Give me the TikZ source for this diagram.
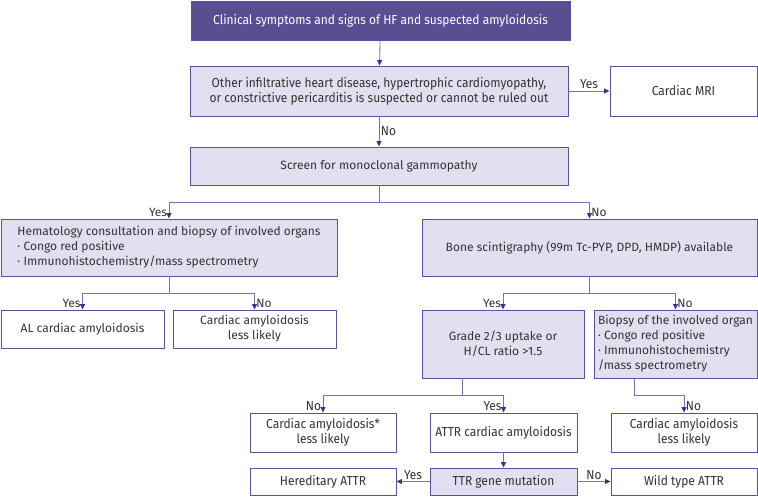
\documentclass[tikz,border=0pt]{standalone}
\usepackage{fontspec}
\setmainfont{Fira Sans}
\newfontfamily\condfont[FakeStretch=0.92]{Fira Sans}
\usetikzlibrary{arrows.meta}
\definecolor{boxdark}{RGB}{87,79,146}
\definecolor{boxlight}{RGB}{226,224,240}
\definecolor{edge}{RGB}{88,82,158}
\definecolor{flow}{RGB}{118,112,178}
\definecolor{tip}{RGB}{58,52,145}
\definecolor{txt}{RGB}{51,51,51}

\begin{document}
\begin{tikzpicture}[x=1pt,y=-1pt,
  box/.style={draw=edge, line width=0.9pt, fill=white, text=txt, inner sep=2pt, align=center,
    font=\fontsize{12}{15}\selectfont},
  lightbox/.style={box, fill=boxlight},
  darkbox/.style={box, fill=boxdark, text=white},
  cond/.style={font=\condfont\fontsize{13}{15}\selectfont},
  arr/.style={draw=flow, line width=0.9pt, -{Triangle[length=5.5pt,width=5pt,color=tip]}},
  lbl/.style={text=txt, inner sep=1.5pt, font=\fontsize{12}{12}\selectfont},
  clbl/.style={lbl, font=\condfont\fontsize{13}{12}\selectfont}]
  \useasboundingbox (0,0) rectangle (758,496);

  \node[darkbox, cond, minimum width=379pt, minimum height=39pt] (clin) at (380.5,20.5)
    {Clinical symptoms and signs of HF and suspected amyloidosis};
  \node[lightbox, cond, minimum width=378pt, minimum height=50pt] (other) at (379,91)
    {Other infiltrative heart disease, hypertrophic cardiomyopathy,\\
     or constrictive pericarditis is suspected or cannot be ruled out};
  \node[box, cond, minimum width=147pt, minimum height=50pt] (mri) at (683.5,91) {Cardiac MRI};
  \node[lightbox, minimum width=378pt, minimum height=38pt] (screen) at (379,166)
    {Screen for monoclonal gammopathy};

  \node[lightbox, align=left, minimum width=336pt, minimum height=57pt] (hema) at (169,247.5)
    {Hematology consultation and biopsy of involved organs\\
     · Congo red positive\\
     · Immunohistochemistry/mass spectrometry};
  \node[lightbox, minimum width=335pt, minimum height=57pt] (bone) at (589.5,247.5)
    {Bone scintigraphy (99m Tc-PYP, DPD, HMDP) available};

  \node[box, minimum width=163pt, minimum height=38pt] (al) at (82.5,329) {AL cardiac amyloidosis};
  \node[box, minimum width=163pt, minimum height=38pt] (unlikelyA) at (254.5,329)
    {Cardiac amyloidosis\\less likely};
  \node[lightbox, minimum width=162pt, minimum height=68pt] (grade) at (503,344)
    {Grade 2/3 uptake or\\H/CL ratio >1.5};
  \node[lightbox, align=left, minimum width=163pt, minimum height=68pt] (biopsy) at (675.5,344)
    {Biopsy of the involved organ\\
     · Congo red positive\\
     · Immunohistochemistry\\
     /mass spectrometry};

  \node[box, cond, minimum width=146pt, minimum height=39pt] (unlikelyB) at (323,432.5)
    {Cardiac amyloidosis*\\less likely};
  \node[box, cond, minimum width=147pt, minimum height=39pt] (attr) at (503.5,432.5)
    {ATTR cardiac amyloidosis};
  \node[box, cond, minimum width=146pt, minimum height=39pt] (unlikelyC) at (684,432.5)
    {Cardiac amyloidosis\\less likely};

  \node[box, cond, minimum width=146pt, minimum height=27pt] (hered) at (323,481.5) {Hereditary ATTR};
  \node[lightbox, cond, minimum width=147pt, minimum height=27pt] (ttr) at (503.5,481.5) {TTR gene mutation};
  \node[box, cond, minimum width=146pt, minimum height=27pt] (wild) at (684,481.5) {Wild type ATTR};

  \draw[arr] (clin) -- (other);
  \draw[arr] (other) -- node[clbl, above] {Yes} (mri);
  \draw[arr] (other) -- node[clbl, right] {No} (screen);

  \draw[arr] (screen.south) -- ++(0,17) -| (hema.north) node[lbl, above left] {Yes};
  \draw[arr] (screen.south) -- ++(0,17) -| (bone.north) node[lbl, above right] {No};

  \draw[arr] (hema.south) -- ++(0,17) -| (al.north) node[lbl, above left] {Yes};
  \draw[arr] (hema.south) -- ++(0,17) -| (unlikelyA.north) node[lbl, above right] {No};

  \draw[arr] (bone.south) -- ++(0,17) -| (grade.north) node[lbl, above left] {Yes};
  \draw[arr] (bone.south) -- ++(0,17) -| (biopsy.north) node[lbl, above right] {No};

  \draw[arr] ([xshift=-41pt]grade.south) -- ++(0,17) -| (unlikelyB.north) node[clbl, above left] {No};
  \draw[arr] ([xshift=-41pt]grade.south) -- ++(0,17) -| (attr.north) node[clbl, above left] {Yes};
  \draw[arr] ([xshift=-41.5pt]biopsy.south) -- ++(0,17) -| (unlikelyC.north) node[clbl, above right] {No};

  \draw[arr] (attr) -- (ttr);
  \draw[arr] (ttr) -- node[clbl, above] {Yes} (hered);
  \draw[arr] (ttr) -- node[clbl, above] {No} (wild);
\end{tikzpicture}
\end{document}
